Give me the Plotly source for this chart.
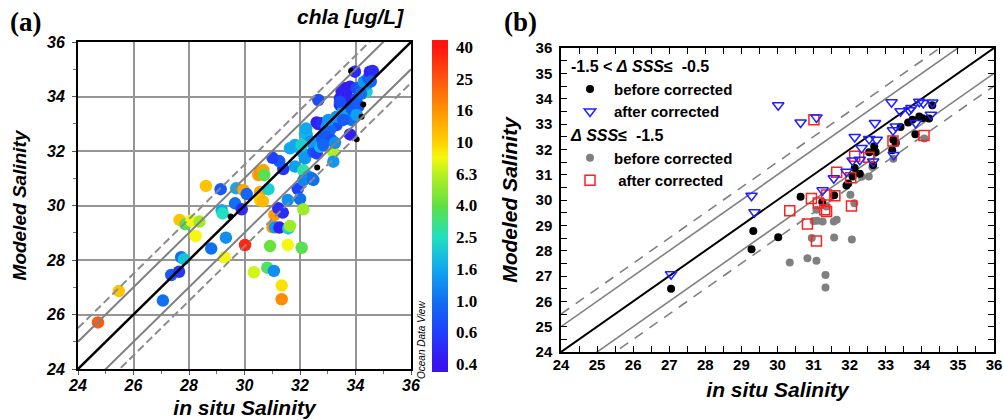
import numpy as np
import plotly.graph_objects as go

# ---------------- Panel (a) data ----------------
a_x = [24.72, 25.47, 27.06, 27.36, 27.64, 27.72, 27.82, 27.66, 27.87, 28.08, 28.38, 28.24, 28.61, 28.80,
       29.14, 29.18, 29.21, 29.28, 29.33, 29.66, 29.70, 29.90, 29.96, 30.08, 30.02, 30.34, 30.50, 30.56,
       30.68, 30.71, 30.56, 30.56, 30.66, 30.86, 30.82, 30.92, 31.01, 31.10, 31.06, 31.08, 31.22, 31.26,
       31.34, 31.34, 31.38, 31.40, 31.25, 31.01, 31.56, 31.56, 31.58, 31.64, 31.82, 31.64, 31.82, 32.00,
       31.92, 32.00, 32.06, 32.12, 32.12, 32.12, 32.18, 32.30, 32.42, 32.12, 32.48, 32.48, 32.60, 32.72,
       33.20, 33.20, 32.24, 32.18, 32.36, 32.06, 32.66, 32.78, 33.26, 32.66, 32.60, 32.78, 33.20, 33.32,
       32.96, 33.08, 33.80, 32.90, 33.14, 32.84, 33.26, 33.32, 33.50, 33.68, 33.86, 33.44, 33.56, 33.86,
       34.10, 33.92, 34.04, 33.44, 33.62, 33.62, 33.80, 33.68, 33.50, 34.04, 34.22, 34.40, 34.30, 34.40,
       34.46, 34.52, 34.62, 33.98, 33.44, 34.04, 34.20, 34.55, 32.22, 33.02, 33.56]
a_y = [25.71, 26.86, 26.51, 27.45, 27.57, 28.10, 28.03, 29.47, 29.31, 29.44, 29.41, 28.88, 30.72, 28.42,
       30.60, 29.83, 29.71, 28.10, 28.82, 30.08, 30.63, 29.86, 30.57, 30.42, 28.55, 27.55, 31.12, 31.24,
       31.30, 31.12, 30.50, 30.20, 30.16, 30.60, 27.72, 28.51, 29.20, 29.20, 27.60, 29.65, 29.90, 29.19,
       27.06, 26.56, 29.74, 31.34, 31.63, 31.75, 30.20, 28.55, 29.16, 29.25, 31.43, 32.10, 32.22, 32.10,
       30.61, 30.24, 28.45, 29.86, 31.29, 31.91, 31.73, 31.06, 31.00, 30.92, 30.94, 31.97, 31.91, 32.16,
       31.97, 31.61, 32.59, 32.65, 32.34, 32.22, 32.99, 32.46, 32.95, 33.87, 33.05, 33.02, 32.95, 32.95,
       32.89, 32.77, 32.61, 32.53, 32.40, 32.22, 32.30, 33.26, 33.26, 33.26, 33.14, 33.69, 33.50, 33.57,
       33.63, 33.87, 33.81, 33.93, 33.93, 34.30, 34.36, 34.18, 34.18, 34.30, 34.36, 34.18, 34.54, 34.45,
       34.67, 34.91, 34.94, 34.91, 33.81, 33.32, 34.10, 34.55, 32.83, 33.14, 33.14]
a_chla = [24, 11, 1.0, 0.8, 0.55, 1.0, 2.0, 11, 3.8, 8, 5.5, 8, 11, 1.0,
          0.8, 1.6, 2.5, 8, 1.3, 1.0, 1.6, 0.5, 14, 0.9, 35, 7, 15, 16,
          14, 3.8, 14, 10, 12, 2.2, 3.5, 4.2, 15, 1.4, 1.3, 15, 0.5, 0.45,
          9, 17, 0.5, 0.55, 0.8, 0.6, 1.3, 8, 2.2, 5.5, 1.5, 1.6, 1.6, 1.8,
          0.6, 1.0, 3.8, 5.5, 2.8, 1.6, 1.4, 1.4, 1.0, 1.2, 1.0, 0.8, 0.6, 1.8,
          6, 1.4, 1.5, 1.8, 1.4, 2.2, 0.45, 0.8, 0.8, 0.7, 0.45, 0.5, 0.7, 0.7,
          1.4, 0.9, 0.45, 0.8, 0.7, 0.9, 1.3, 1.4, 1.4, 0.8, 1.0, 0.45, 1.5, 0.8,
          0.8, 0.7, 0.8, 0.45, 0.45, 0.45, 0.45, 0.45, 0.45, 0.7, 0.8, 2.2, 1.4, 1.4,
          0.8, 0.45, 0.5, 0.5, 0.7, 1.5, 1.0, 0.9, 1.6, 1.4, 0.8]
# points without chla (small black dots)
a_nochl_x = [29.50, 32.62, 34.04, 34.22, 34.28, 33.84]
a_nochl_y = [29.60, 31.39, 32.43, 33.26, 33.71, 34.94]

cbar_labels = ["0.4", "0.6", "1.0", "1.6", "2.5", "4.0", "6.3", "10", "16", "25", "40"]
cbar_values = [0.4, 0.6, 1.0, 1.6, 2.5, 4.0, 6.3, 10, 16, 25, 40]

# ---------------- Panel (b) data ----------------
b1_before_x = [27.05, 29.28, 29.33, 30.02, 30.64, 31.24, 31.57, 31.91, 31.96, 32.08, 32.14, 32.28, 32.54, 32.65,
               32.68, 32.72, 33.18, 33.21, 33.28, 33.41, 33.62, 33.74, 33.82, 33.93, 34.02, 34.20, 34.29]
b1_before_y = [26.50, 28.06, 28.78, 28.53, 30.13, 29.92, 30.19, 30.57, 30.65, 30.93, 31.26, 31.04, 31.88, 31.38,
               32.12, 31.89, 31.96, 32.38, 32.25, 32.88, 33.06, 33.17, 32.60, 33.30, 33.23, 33.22, 33.74]
b1_after_x = [27.05, 29.28, 29.36, 30.02, 30.64, 31.08, 31.25, 31.56, 31.91, 32.08, 32.14, 32.28, 32.33, 32.54,
              32.65, 32.70, 32.75, 33.16, 33.20, 33.28, 33.22, 33.41, 33.65, 33.71, 33.83, 33.93, 34.04, 34.29, 34.25]
b1_after_y = [27.07, 30.17, 29.52, 33.74, 33.06, 33.26, 30.38, 30.86, 31.12, 31.56, 32.49, 31.59, 32.05, 32.41,
              31.52, 33.04, 32.38, 33.86, 32.75, 32.90, 31.78, 33.50, 33.54, 33.63, 33.04, 33.88, 33.83, 33.85, 33.37]
b2_before_x = [30.34, 30.83, 31.08, 31.33, 31.33, 30.95, 31.57, 32.06, 31.00, 31.10, 31.25, 31.56, 31.64, 32.02,
               32.13, 31.08, 31.36, 32.33, 32.53, 33.21, 34.07, 32.63]
b2_before_y = [27.53, 27.70, 27.60, 27.04, 26.55, 28.50, 28.52, 28.44, 29.17, 29.18, 29.15, 29.15, 29.22, 30.21,
               29.87, 29.62, 29.74, 30.92, 30.93, 31.63, 32.43, 31.30]
b2_after_x = [30.34, 30.83, 31.08, 30.94, 31.13, 31.31, 31.36, 31.36, 31.59, 31.64, 31.01, 32.05, 32.03, 32.14,
              32.53, 33.20, 34.06]
b2_after_y = [29.58, 29.05, 28.38, 30.06, 29.88, 29.62, 29.55, 30.20, 30.17, 31.10, 33.17, 29.76, 30.88, 31.73,
              31.69, 32.33, 32.55]

ref_offsets_solid = [1.0, -1.0]
ref_offsets_dash = [1.5, -1.5]
axis_range = [24, 36]

# ---------------- figure ----------------
SANS = "Liberation Sans"
SERIF = "Liberation Serif"

levels = np.arange(len(cbar_values))
a_level = np.interp(np.log(a_chla), np.log(cbar_values), levels)
cmin, cmax = -0.25, 10.22
stop_levels = [0, 1, 2, 3, 4, 5, 6, 6.5, 7, 8, 9, 10]
stop_colors = ["#3a12f0", "#2040ff", "#1070f0", "#10a8f0", "#20e0c0", "#60e040", "#b8f020",
               "#f4f810", "#ffd000", "#ff9400", "#ff5410", "#ff1410"]
cscale = [[0.0, stop_colors[0]]]
for lv, c in zip(stop_levels, stop_colors):
    cscale.append([(lv - cmin) / (cmax - cmin), c])
cscale.append([1.0, stop_colors[-1]])

fig = go.Figure()

# panel (a) colored points
fig.add_trace(go.Scatter(
    x=a_x, y=a_y, mode="markers", xaxis="x", yaxis="y", showlegend=False,
    marker=dict(size=12.5, color=a_level, colorscale=cscale, cmin=cmin, cmax=cmax,
                line=dict(width=0),
                colorbar=dict(x=432 / 1003, xanchor="left", xpad=0, ypad=0,
                              y=1 - 206 / 420, yanchor="middle", len=332 / 420, lenmode="fraction",
                              thickness=16, outlinewidth=0,
                              tickvals=list(levels), ticktext=cbar_labels,
                              ticks="outside", ticklen=5, tickcolor="rgba(0,0,0,0)",
                              tickfont=dict(family=SERIF, size=17, color="black", weight="bold")))))
fig.add_trace(go.Scatter(x=a_nochl_x, y=a_nochl_y, mode="markers", xaxis="x", yaxis="y", showlegend=False,
                         marker=dict(size=6, color="black")))

# reference lines panel (a)
xr = np.array(axis_range, dtype=float)
for off in ref_offsets_dash:
    fig.add_trace(go.Scatter(x=xr, y=xr + off, mode="lines", xaxis="x", yaxis="y", showlegend=False,
                             line=dict(color="#8c8c8c", width=2, dash="8px,4px"), hoverinfo="skip"))
for off in ref_offsets_solid:
    fig.add_trace(go.Scatter(x=xr, y=xr + off, mode="lines", xaxis="x", yaxis="y", showlegend=False,
                             line=dict(color="#808080", width=2), hoverinfo="skip"))
fig.add_trace(go.Scatter(x=xr, y=xr, mode="lines", xaxis="x", yaxis="y", showlegend=False,
                         line=dict(color="black", width=2.5), hoverinfo="skip"))

# reference lines panel (b)
for off in ref_offsets_dash:
    fig.add_trace(go.Scatter(x=xr, y=xr + off, mode="lines", xaxis="x2", yaxis="y2", showlegend=False,
                             line=dict(color="#808080", width=1.6, dash="10px,8px"), hoverinfo="skip"))
for off in ref_offsets_solid:
    fig.add_trace(go.Scatter(x=xr, y=xr + off, mode="lines", xaxis="x2", yaxis="y2", showlegend=False,
                             line=dict(color="#808080", width=1.6), hoverinfo="skip"))
fig.add_trace(go.Scatter(x=xr, y=xr, mode="lines", xaxis="x2", yaxis="y2", showlegend=False,
                         line=dict(color="black", width=2), hoverinfo="skip"))

NB = "\u00a0"
g1 = "-1.5 < <i>Δ" + NB + "SSS</i>≤" + NB + NB + "-0.5"
g2 = "<i>Δ" + NB + "SSS</i>≤" + NB + NB + "-1.5"
gt_font = dict(family=SANS, size=16, color="black", weight="bold")

fig.add_trace(go.Scatter(x=b2_before_x, y=b2_before_y, mode="markers", xaxis="x2", yaxis="y2",
                         name="before corrected", legendgroup="g2", legendgrouptitle=dict(text=g2, font=gt_font),
                         legendrank=3, marker=dict(size=8, color="#808080")))
fig.add_trace(go.Scatter(x=b1_before_x, y=b1_before_y, mode="markers", xaxis="x2", yaxis="y2",
                         name="before corrected", legendgroup="g1", legendgrouptitle=dict(text=g1, font=gt_font),
                         legendrank=1, marker=dict(size=8, color="black")))
fig.add_trace(go.Scatter(x=b2_after_x, y=b2_after_y, mode="markers", xaxis="x2", yaxis="y2",
                         name=NB + "after corrected", legendgroup="g2", legendrank=4,
                         marker=dict(size=10, symbol="square-open", color="#ff2020", line=dict(width=1.5))))
fig.add_trace(go.Scatter(x=b1_after_x, y=b1_after_y, mode="markers", xaxis="x2", yaxis="y2",
                         name="after corrected", legendgroup="g1", legendrank=2,
                         marker=dict(size=10, symbol="triangle-down-open", color="#2020ff", line=dict(width=1.5))))

tick_a = dict(family=SANS, size=16, color="black", weight="bold", style="italic")
tick_b = dict(family=SANS, size=15, color="black", weight="bold")
title_font_a_x = dict(family=SANS, size=21, color="black", weight="bold", style="italic")
title_font_a_y = dict(family=SANS, size=19, color="black", weight="bold", style="italic")
title_font_b = dict(family=SANS, size=21, color="black", weight="bold", style="italic")

fig.update_layout(
    width=1003, height=420, margin=dict(l=0, r=0, t=0, b=0, autoexpand=False),
    paper_bgcolor="white", plot_bgcolor="white",
    xaxis=dict(domain=[78 / 1003, 411 / 1003], range=axis_range, dtick=2, tick0=24, automargin=False,
               showgrid=True, gridcolor="#959595", gridwidth=1.5, zeroline=False,
               showline=True, linecolor="black", linewidth=2, mirror=True,
               ticks="outside", ticklen=4, tickcolor="#555", tickfont=tick_a, ticklabelstandoff=-3,
               minor=dict(dtick=1, ticks="outside", ticklen=3, tickcolor="#777", showgrid=False),
               title=dict(text="in situ Salinity", font=title_font_a_x, standoff=7), anchor="y"),
    yaxis=dict(domain=[1 - 369 / 420, 1 - 42 / 420], range=axis_range, dtick=2, tick0=24, automargin=False,
               showgrid=True, gridcolor="#959595", gridwidth=1.5, zeroline=False,
               showline=True, linecolor="black", linewidth=2, mirror=True,
               ticks="outside", ticklen=4, tickcolor="#555", tickfont=tick_a, ticklabelstandoff=4,
               minor=dict(dtick=1, ticks="outside", ticklen=3, tickcolor="#777", showgrid=False),
               title=dict(text="Modeled Salinity", font=title_font_a_y, standoff=14), anchor="x"),
    xaxis2=dict(domain=[561 / 1003, 994 / 1003], range=axis_range, dtick=1, tick0=24, automargin=False,
                showgrid=False, zeroline=False, showline=True, linecolor="black", linewidth=1.5,
                mirror="allticks", ticks="inside", ticklen=6, tickcolor="black", tickwidth=1.2,
                tickfont=tick_b, ticklabelstandoff=-2,
                minor=dict(dtick=0.5, ticks="inside", ticklen=6, tickcolor="black", tickwidth=1.2),
                title=dict(text="in situ Salinity", font=title_font_b, standoff=11), anchor="y2"),
    yaxis2=dict(domain=[1 - 352 / 420, 1 - 48 / 420], range=axis_range, dtick=1, tick0=24, automargin=False,
                showgrid=False, zeroline=False, showline=True, linecolor="black", linewidth=1.5,
                mirror="allticks", ticks="inside", ticklen=6, tickcolor="black", tickwidth=1.2,
                tickfont=tick_b, ticklabelstandoff=4,
                minor=dict(dtick=0.5, ticks="inside", ticklen=6, tickcolor="black", tickwidth=1.2),
                title=dict(text="Modeled Salinity", font=title_font_b, standoff=12), anchor="x2"),
    legend=dict(x=566 / 1003, y=1 - 49 / 420, xanchor="left", yanchor="top",
                bgcolor="rgba(0,0,0,0)", borderwidth=0, traceorder="grouped",
                tracegroupgap=0, font=dict(family=SANS, size=15, color="black", weight="bold"),
                itemwidth=38),
    annotations=[
        dict(text="(a)", x=8 / 1003, y=1 - 22 / 420, xref="paper", yref="paper", xanchor="left",
             yanchor="middle", showarrow=False, font=dict(family=SERIF, size=27, color="black", weight="bold")),
        dict(text="(b)", x=502 / 1003, y=1 - 22 / 420, xref="paper", yref="paper", xanchor="left",
             yanchor="middle", showarrow=False, font=dict(family=SERIF, size=27, color="black", weight="bold")),
        dict(text="chla [ug/L]", x=406 / 1003, y=1 - 17 / 420, xref="paper", yref="paper", xanchor="right",
             yanchor="middle", showarrow=False,
             font=dict(family=SANS, size=21, color="black", weight="bold", style="italic")),
        dict(text="Ocean Data View", x=421 / 1003, y=1 - 340 / 420, xref="paper", yref="paper",
             xanchor="center", yanchor="middle", textangle=-90, showarrow=False,
             font=dict(family=SANS, size=10, color="black", style="italic")),
    ],
)

fig.write_html("out.html", config={"displayModeBar": False},
               post_script="document.body.style.margin='0';document.body.style.overflow='hidden';")
